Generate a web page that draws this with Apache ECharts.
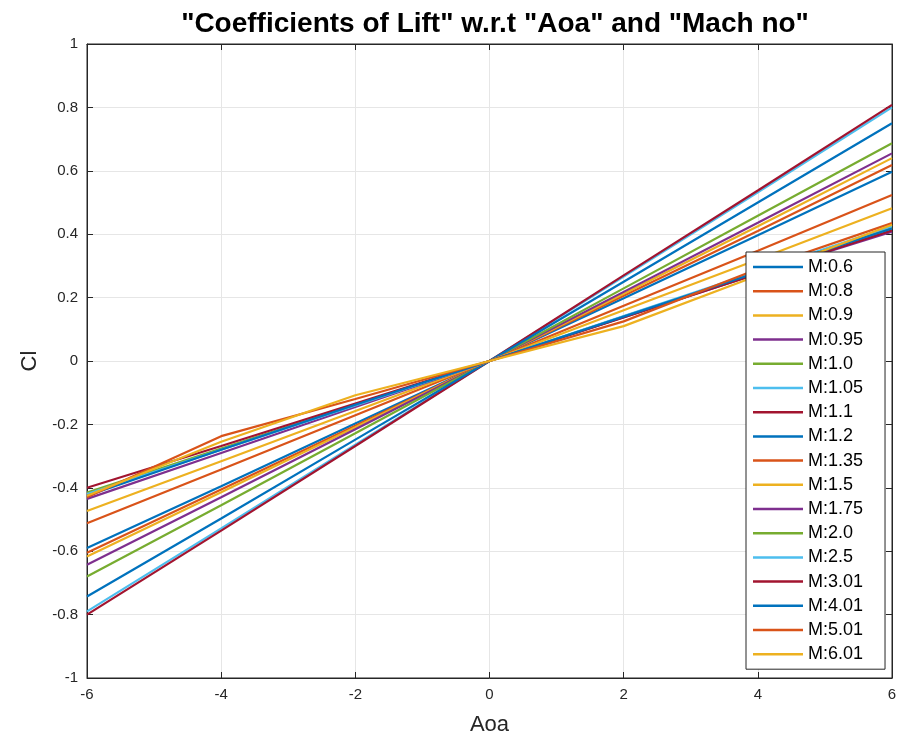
<!DOCTYPE html>
<html><head><meta charset="utf-8">
<script src="https://cdn.jsdelivr.net/npm/echarts@6/dist/echarts.min.js"></script>
<style>html,body{margin:0;padding:0;background:#fff}#c{width:901px;height:745px}</style>
</head><body><div id="c"></div>
<script>
const aoa = [-6, -4, -2, 0, 2, 4, 6];
const machLabels = ['M:0.6','M:0.8','M:0.9','M:0.95','M:1.0','M:1.05','M:1.1','M:1.2','M:1.35','M:1.5','M:1.75','M:2.0','M:2.5','M:3.01','M:4.01','M:5.01','M:6.01'];
const cl_M0_6  = [-0.590,-0.395,-0.197,0,0.198,0.397,0.597];
const cl_M0_8  = [-0.605,-0.405,-0.204,0,0.206,0.410,0.618];
const cl_M0_9  = [-0.617,-0.414,-0.209,0,0.212,0.425,0.640];
const cl_M0_95 = [-0.643,-0.430,-0.215,0,0.218,0.436,0.655];
const cl_M1_0  = [-0.680,-0.455,-0.228,0,0.229,0.458,0.687];
const cl_M1_05 = [-0.790,-0.528,-0.264,0,0.266,0.532,0.800];
const cl_M1_1  = [-0.800,-0.535,-0.268,0,0.270,0.538,0.808];
const cl_M1_2  = [-0.743,-0.497,-0.248,0,0.250,0.500,0.750];
const cl_M1_35 = [-0.512,-0.342,-0.171,0,0.174,0.348,0.524];
const cl_M1_5  = [-0.473,-0.316,-0.158,0,0.160,0.320,0.482];
const cl_M1_75 = [-0.435,-0.290,-0.145,0,0.138,0.275,0.408];
const cl_M2_0  = [-0.415,-0.276,-0.138,0,0.140,0.280,0.420];
const cl_M2_5  = [-0.420,-0.280,-0.140,0,0.142,0.283,0.425];
const cl_M3_01 = [-0.400,-0.268,-0.134,0,0.137,0.275,0.412];
const cl_M4_01 = [-0.425,-0.280,-0.138,0,0.140,0.280,0.418];
const cl_M5_01 = [-0.430,-0.237,-0.120,0,0.125,0.290,0.435];
const cl_M6_01 = [-0.425,-0.255,-0.108,0,0.110,0.270,0.430];
const allCl = [cl_M0_6,cl_M0_8,cl_M0_9,cl_M0_95,cl_M1_0,cl_M1_05,cl_M1_1,cl_M1_2,cl_M1_35,cl_M1_5,cl_M1_75,cl_M2_0,cl_M2_5,cl_M3_01,cl_M4_01,cl_M5_01,cl_M6_01];
const palette = ['#0072BD','#D95319','#EDB120','#7E2F8E','#77AC30','#4DBEEE','#A2142F'];

const font = 'Liberation Sans, Arial, Helvetica, sans-serif';
const series = allCl.map((vals, i) => ({
  name: machLabels[i], type: 'line', xAxisIndex: 0, yAxisIndex: 0,
  data: aoa.map((x, j) => [x, vals[j]]),
  showSymbol: false, symbol: 'none', animation: false,
  lineStyle: { width: 2.2, color: palette[i % 7] },
  itemStyle: { color: palette[i % 7] }
}));

const axisCommon = {
  axisLine: { show: true, onZero: false, lineStyle: { color: '#262626', width: 1 } },
  axisTick: { show: true, inside: true, length: 6, lineStyle: { color: '#262626' } }
};

const chart = echarts.init(document.getElementById('c'), null, { renderer: 'canvas' });
chart.setOption({
  animation: false,
  color: palette,
  title: { text: '"Coefficients of Lift" w.r.t "Aoa" and "Mach no"', left: 490, top: 5, textAlign: 'center',
    textStyle: { fontFamily: font, fontWeight: 'bold', fontSize: 28, color: '#000' } },
  grid: { left: 87, right: 9, top: 44, bottom: 67, show: true, borderColor: '#262626', borderWidth: 1, backgroundColor: '#fff' },
  legend: {
    orient: 'vertical', left: 746, top: 252, data: machLabels,
    icon: 'rect', itemWidth: 50, itemHeight: 2.5, itemGap: 6.2,
    backgroundColor: '#fff', borderColor: '#262626', borderWidth: 1,
    padding: [6, 22, 6, 7],
    textStyle: { fontFamily: font, fontSize: 18, color: '#000', lineHeight: 18 }
  },
  xAxis: [
    Object.assign({ type: 'value', min: -6, max: 6, interval: 2, position: 'bottom',
      name: 'Aoa', nameLocation: 'middle', nameGap: 36,
      nameTextStyle: { fontFamily: font, fontSize: 22, color: '#262626' },
      axisLabel: { fontFamily: font, fontSize: 15, color: '#262626', margin: 9 },
      splitLine: { show: true, lineStyle: { color: '#e6e6e6', width: 1 } } }, axisCommon),
    Object.assign({ type: 'value', min: -6, max: 6, interval: 2, position: 'top',
      axisLabel: { show: false }, splitLine: { show: false } }, axisCommon)
  ],
  yAxis: [
    Object.assign({ type: 'value', min: -1, max: 1, interval: 0.2, position: 'left',
      name: 'Cl', nameLocation: 'middle', nameGap: 46,
      nameTextStyle: { fontFamily: font, fontSize: 22, color: '#262626' },
      axisLabel: { fontFamily: font, fontSize: 15, color: '#262626', margin: 9,
        formatter: v => { const r = Math.round(v * 10) / 10; return r === 0 ? '0' : String(r); } },
      splitLine: { show: true, lineStyle: { color: '#e6e6e6', width: 1 } } }, axisCommon),
    Object.assign({ type: 'value', min: -1, max: 1, interval: 0.2, position: 'right',
      axisLabel: { show: false }, splitLine: { show: false } }, axisCommon)
  ],
  series: series
});
</script>
</body></html>
